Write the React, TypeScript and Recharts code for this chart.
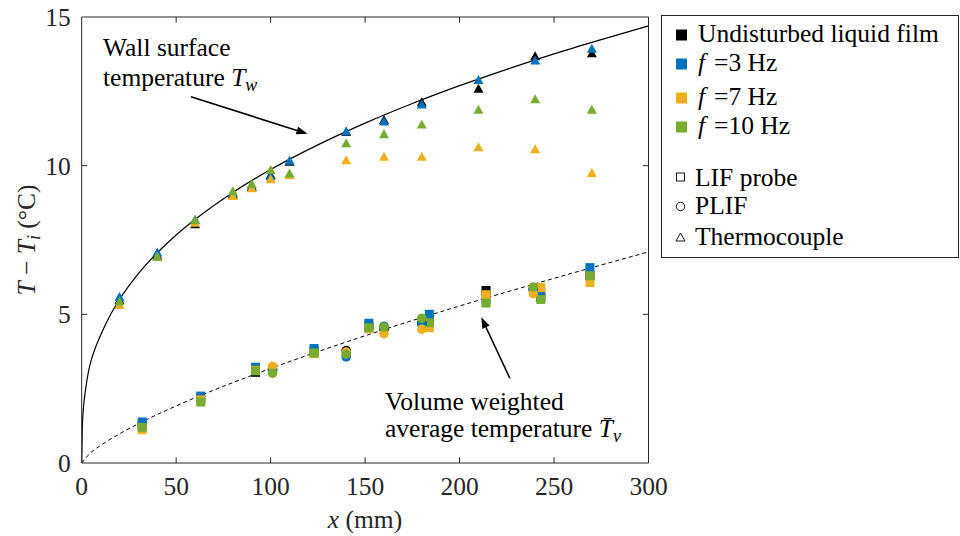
import React from 'react';
import { ComposedChart, XAxis, YAxis, Scatter, Line, ReferenceLine } from 'recharts';

// ---- data ----
const xTicks = [0, 50, 100, 150, 200, 250, 300];
const yTicks = [0, 5, 10, 15];

// Thermocouple (triangles)
const xThermo = [20, 40, 60, 80, 90, 100, 110, 140, 160, 180, 210, 240, 270];
const thermoUndisturbed = [5.5, 7.0, 8.05, 9.05, 9.3, 9.7, 10.15, 11.15, 11.55, 12.15, 12.6, 13.7, 13.8];
const thermo3Hz = [5.6, 7.1, 8.2, 9.1, 9.35, 9.66, 10.18, 11.17, 11.5, 12.07, 12.9, 13.55, 13.95];
const thermo7Hz = [5.33, 6.95, 8.1, 9.0, 9.26, 9.56, 9.7, 10.2, 10.32, 10.32, 10.64, 10.57, 9.77];
const thermo10Hz = [5.45, 6.95, 8.18, 9.16, 9.4, 9.87, 9.75, 10.77, 11.07, 11.4, 11.9, 12.25, 11.9];

// LIF probe (squares)
const xLIF = [32, 63, 92, 123, 152, 184, 214, 243, 269];
const lifUndisturbed = [1.25, 2.15, 3.05, 3.75, 4.6, 4.83, 5.8, 5.57, 6.3];
const lif3Hz = [1.38, 2.25, 3.22, 3.85, 4.7, 5.0, 5.5, 5.75, 6.57];
const lif7Hz = [1.12, 2.12, 3.12, 3.68, 4.52, 4.55, 5.66, 5.9, 6.07];
const lif10Hz = [1.2, 2.05, 3.1, 3.7, 4.55, 4.72, 5.38, 5.5, 6.3];

// PLIF (circles)
const xPLIF = [101, 140, 160, 180, 239];
const plifUndisturbed = [3.15, 3.78, 4.5, 4.7, 5.85];
const plif3Hz = [3.1, 3.57, 4.6, 4.67, 5.8];
const plif7Hz = [3.25, 3.73, 4.35, 4.5, 5.7];
const plif10Hz = [3.02, 3.66, 4.57, 4.87, 5.92];

// Fitted curves
const wallCurveX = [0, 0.3, 1, 2, 3.5, 5, 7.5, 10, 15, 20, 30, 40, 50, 60, 80, 100, 125, 150, 175, 200, 225, 250, 275, 300];
const wallCurveY = [0, 1.15, 1.9, 2.45, 3.05, 3.45, 3.92, 4.3, 4.96, 5.5, 6.37, 7.07, 7.67, 8.19, 9.1, 9.87, 10.7, 11.43, 12.09, 12.69, 13.24, 13.76, 14.24, 14.7];
const avgCurveX = [0, 5, 10, 20, 30, 50, 75, 100, 150, 200, 250, 300];
const avgCurveY = [0, 0.36, 0.59, 0.98, 1.32, 1.92, 2.58, 3.18, 4.28, 5.28, 6.21, 7.1];

const legendColorLabels = ['Undisturbed liquid film', '=3 Hz', '=7 Hz', '=10 Hz'];
const legendShapeLabels = ['LIF probe', 'PLIF', 'Thermocouple'];

const COLORS = ['#000000', '#0072BD', '#EDB120', '#77AC30'];
const FONT = '"Liberation Serif", "Times New Roman", serif';
const AXIS = '#262626';

const zip = (xs: number[], ys: number[]) => xs.map((x, i) => ({ x, y: ys[i] }));

const thermoSets = [thermoUndisturbed, thermo3Hz, thermo7Hz, thermo10Hz];
const lifSets = [lifUndisturbed, lif3Hz, lif7Hz, lif10Hz];
const plifSets = [plifUndisturbed, plif3Hz, plif7Hz, plif10Hz];

const squareShape = (color: string) => (p: any) => (
  <rect x={p.cx - 4.5} y={p.cy - 4.5} width={9} height={9} fill={color} />
);
const circleShape = (color: string) => (p: any) => (
  <circle cx={p.cx} cy={p.cy} r={4.8} fill={color} />
);
const triangleShape = (color: string) => (p: any) => (
  <polygon points={`${p.cx - 5},${p.cy + 4.5} ${p.cx + 5},${p.cy + 4.5} ${p.cx},${p.cy - 4.5}`} fill={color} />
);

const arrowShape = (p: any) => {
  const { x1, y1, x2, y2 } = p;
  const ang = Math.atan2(y2 - y1, x2 - x1);
  const L = 11;
  const W = 4;
  const bx = x2 - L * Math.cos(ang);
  const by = y2 - L * Math.sin(ang);
  const nx = -Math.sin(ang);
  const ny = Math.cos(ang);
  return (
    <g>
      <line x1={x1} y1={y1} x2={bx} y2={by} stroke="#000" strokeWidth={1.6} />
      <polygon points={`${x2},${y2} ${bx + nx * W},${by + ny * W} ${bx - nx * W},${by - ny * W}`} fill="#000" />
    </g>
  );
};

const wallArrow = [{ x: 57.8, y: 12.32 }, { x: 119.5, y: 11.07 }];
const avgArrow = [{ x: 226.6, y: 2.85 }, { x: 211.5, y: 4.9 }];

const tickLenX = 2.9; // in x units (~5.5px)
const tickLenY = 0.19; // in y units (~5.5px)

export default function App() {
  const inner = [5, 10];
  const innerX = [50, 100, 150, 200, 250];
  const colorRowsY = [42, 71, 105, 134];
  const colorSqY = [29.5, 58.5, 92.5, 121.5];
  const shapeRowsY = [186, 214, 245];
  return (
    <div style={{ position: 'absolute', left: 0, top: 0, width: 960, height: 536, background: '#fff' }}>
      <ComposedChart width={960} height={536} margin={{ top: 17, right: 311.5, bottom: 0, left: 0 }}>
        <XAxis
          dataKey="x"
          type="number"
          domain={[0, 300]}
          ticks={xTicks}
          tickLine={false}
          tickSize={0}
          tickMargin={14}
          height={73}
          stroke={AXIS}
          axisLine={{ stroke: AXIS, strokeWidth: 1 }}
          tick={{ fontSize: 25.5, fontFamily: FONT, fill: AXIS }}
          allowDataOverflow
        />
        <YAxis
          dataKey="y"
          type="number"
          domain={[0, 15]}
          ticks={yTicks}
          tickLine={false}
          tickSize={0}
          tickMargin={11}
          width={81.7}
          axisLine={{ stroke: AXIS, strokeWidth: 1 }}
          tick={{ fontSize: 25.5, fontFamily: FONT, fill: AXIS }}
          allowDataOverflow
        />
        <ReferenceLine x={300} stroke={AXIS} strokeWidth={1} />
        <ReferenceLine y={15} stroke={AXIS} strokeWidth={1} />
        {inner.map((t) => (
          <ReferenceLine key={'yl' + t} segment={[{ x: 0, y: t }, { x: tickLenX, y: t }]} stroke={AXIS} />
        ))}
        {inner.map((t) => (
          <ReferenceLine key={'yr' + t} segment={[{ x: 300 - tickLenX, y: t }, { x: 300, y: t }]} stroke={AXIS} />
        ))}
        {innerX.map((t) => (
          <ReferenceLine key={'xb' + t} segment={[{ x: t, y: 0 }, { x: t, y: tickLenY }]} stroke={AXIS} />
        ))}
        {innerX.map((t) => (
          <ReferenceLine key={'xt' + t} segment={[{ x: t, y: 15 - tickLenY }, { x: t, y: 15 }]} stroke={AXIS} />
        ))}

        <Line
          data={zip(wallCurveX, wallCurveY)}
          dataKey="y"
          type="monotone"
          stroke="#000"
          strokeWidth={1.2}
          dot={false}
          isAnimationActive={false}
        />
        <Line
          data={zip(avgCurveX, avgCurveY)}
          dataKey="y"
          type="monotone"
          stroke="#000"
          strokeWidth={1}
          strokeDasharray="4 3"
          dot={false}
          isAnimationActive={false}
        />

        {lifSets.map((s, i) => (
          <Scatter key={'lif' + i} data={zip(xLIF, s)} dataKey="y" shape={squareShape(COLORS[i])} isAnimationActive={false} />
        ))}
        {plifSets.map((s, i) => (
          <Scatter key={'plif' + i} data={zip(xPLIF, s)} dataKey="y" shape={circleShape(COLORS[i])} isAnimationActive={false} />
        ))}
        {thermoSets.map((s, i) => (
          <Scatter key={'tc' + i} data={zip(xThermo, s)} dataKey="y" shape={triangleShape(COLORS[i])} isAnimationActive={false} />
        ))}

        <ReferenceLine segment={wallArrow} shape={arrowShape} ifOverflow="visible" />
        <ReferenceLine segment={avgArrow} shape={arrowShape} ifOverflow="visible" />
      </ComposedChart>

      <svg width={960} height={536} style={{ position: 'absolute', left: 0, top: 0, pointerEvents: 'none' }} fontFamily={FONT}>
        {/* axis titles */}
        <text x={365} y={528} textAnchor="middle" fontSize={25.5} fill={AXIS}>
          <tspan fontStyle="italic">x</tspan> (mm)
        </text>
        <text transform="rotate(-90 35 240)" x={35} y={240} textAnchor="middle" fontSize={25.5} fill={AXIS}>
          <tspan fontStyle="italic">T</tspan> − <tspan fontStyle="italic">T</tspan>
          <tspan fontStyle="italic" fontSize={18} dy={5}>i</tspan>
          <tspan dy={-5}> (°C)</tspan>
        </text>

        {/* annotations */}
        <text x={103} y={56} fontSize={25.5} fill="#000">Wall surface</text>
        <text x={103} y={86} fontSize={25.5} fill="#000">
          temperature <tspan fontStyle="italic">T</tspan>
          <tspan fontStyle="italic" fontSize={18} dy={5}>w</tspan>
        </text>
        <text x={385} y={410} fontSize={25.5} fill="#000">Volume weighted</text>
        <text x={385} y={437} fontSize={25.5} fill="#000">
          average temperature <tspan fontStyle="italic">{'T\u0304'}</tspan>
          <tspan fontStyle="italic" fontSize={18} dy={5}>v</tspan>
        </text>

        {/* legend */}
        <rect x={661.5} y={15.5} width={297} height={242} fill="#fff" stroke={AXIS} strokeWidth={1} />
        {legendColorLabels.map((lab, i) => (
          <g key={lab}>
            <rect x={676} y={colorSqY[i]} width={11} height={11} fill={COLORS[i]} />
            {i === 0 ? (
              <text x={698} y={colorRowsY[i]} fontSize={25.5} fill="#000">{lab}</text>
            ) : (
              <text x={698} y={colorRowsY[i]} fontSize={25.5} fill="#000">
                <tspan fontStyle="italic">f</tspan>
                <tspan dx={9}>{lab}</tspan>
              </text>
            )}
          </g>
        ))}
        <rect x={676.5} y={173} width={8} height={8} fill="none" stroke="#000" strokeWidth={0.9} />
        <circle cx={680.5} cy={206.5} r={4.2} fill="none" stroke="#000" strokeWidth={0.9} />
        <polygon points="676,241 685,241 680.5,233" fill="none" stroke="#000" strokeWidth={0.9} />
        {legendShapeLabels.map((lab, i) => (
          <text key={lab} x={695} y={shapeRowsY[i]} fontSize={25.5} fill="#000">{lab}</text>
        ))}
      </svg>
    </div>
  );
}
